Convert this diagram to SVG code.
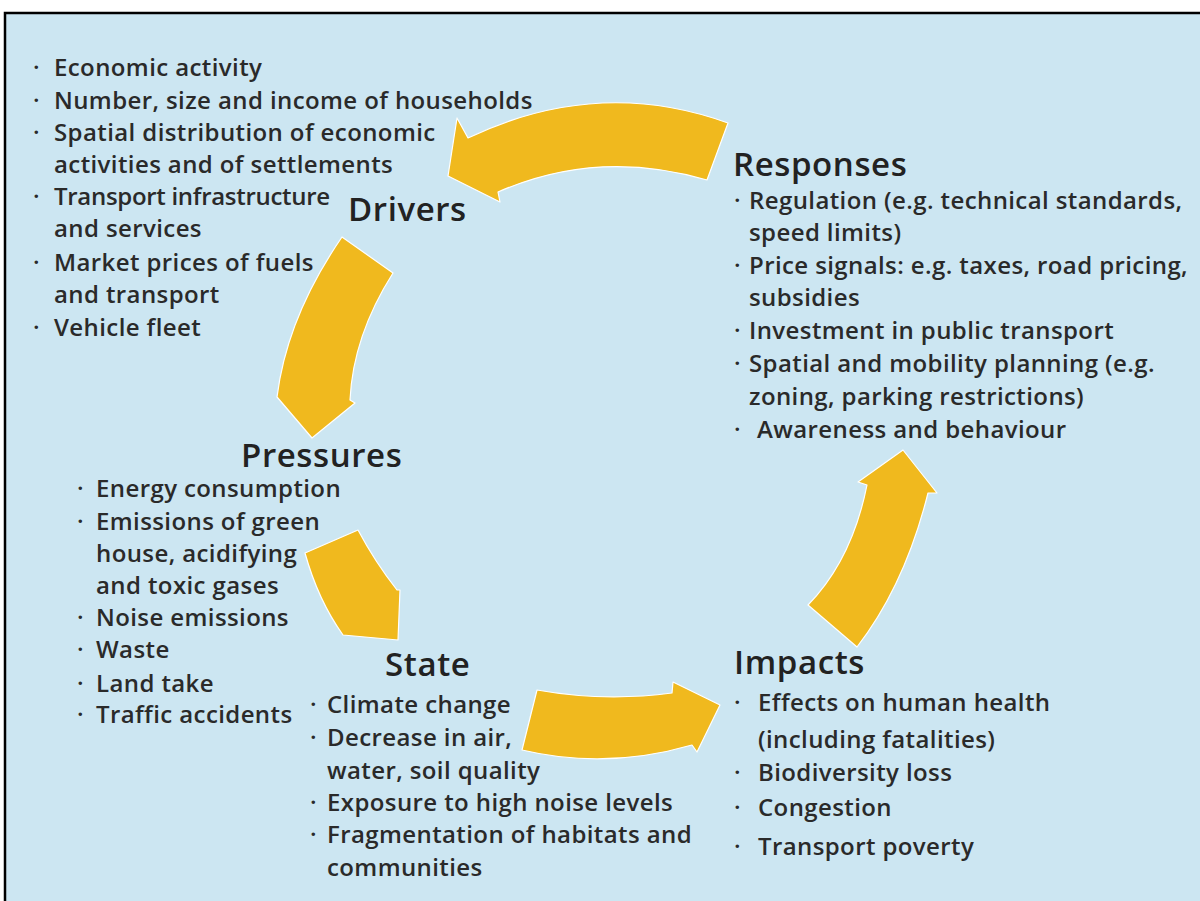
<svg xmlns="http://www.w3.org/2000/svg" width="1200" height="901" viewBox="0 0 1200 901">
<style>
.bg{fill:#cce6f2;stroke:#000;stroke-width:2.5}
.arrow{fill:#f0b91e;stroke:#fff;stroke-width:1.2;stroke-linejoin:round}
.title{font-family:"Open Sans","Liberation Sans",sans-serif;font-size:33px;font-weight:600;letter-spacing:0.6px;fill:#222}
.item{font-family:"Open Sans","Liberation Sans",sans-serif;font-size:24px;font-weight:600;letter-spacing:0.4px;fill:#2a2a2a}
</style>
<rect x="0" y="0" width="1200" height="901" fill="#ffffff"/>
<rect class="bg" x="5" y="13" width="1210" height="900"/>
<g id="connectors">
<path class="arrow" d="M728,123 Q598,76 468,138 L457,118 L448,176 L500,202 L498,192 Q598,148 707,180 Z"/>
<path class="arrow" d="M342,237 L393,273 Q353,336 350,400 L355,403 L312,438 L277,397 Q287,317 342,237 Z"/>
<path class="arrow" d="M305,553 L358,530 Q375,562 397,590 L400,590 L398,640 L343,635 Q318,600 305,553 Z"/>
<path class="arrow" d="M537,690 Q604,702 672,693 L673,682 L720,705 L697,752 L692,745 Q606,770 522,750 Z"/>
<path class="arrow" d="M808,605 L857,647 Q905,585 928,493 L937,493 L903,450 L858,482 L867,485 Q852,560 808,605 Z"/>
</g>
<g id="drivers">
<text class="title" x="348" y="221">Drivers</text>
<text class="item"><tspan x="33" y="76">·</tspan><tspan x="54" y="76">Economic activity</tspan></text>
<text class="item"><tspan x="33" y="109">·</tspan><tspan x="54" y="109">Number, size and income of households</tspan></text>
<text class="item"><tspan x="33" y="141">·</tspan><tspan x="54" y="141">Spatial distribution of economic</tspan></text>
<text class="item" x="54" y="173">activities and of settlements</text>
<text class="item"><tspan x="33" y="205">·</tspan><tspan x="54" y="205" style="letter-spacing:-0.3px">Transport infrastructure</tspan></text>
<text class="item" x="54" y="237">and services</text>
<text class="item"><tspan x="33" y="271">·</tspan><tspan x="54" y="271">Market prices of fuels</tspan></text>
<text class="item" x="54" y="303">and transport</text>
<text class="item"><tspan x="33" y="336">·</tspan><tspan x="54" y="336">Vehicle fleet</tspan></text>
</g>
<g id="responses">
<text class="title" x="733" y="176">Responses</text>
<text class="item"><tspan x="734" y="209">·</tspan><tspan x="749" y="209">Regulation (e.g. technical standards,</tspan></text>
<text class="item" x="749" y="241">speed limits)</text>
<text class="item"><tspan x="734" y="274">·</tspan><tspan x="749" y="274">Price signals: e.g. taxes, road pricing,</tspan></text>
<text class="item" x="749" y="306">subsidies</text>
<text class="item"><tspan x="734" y="339">·</tspan><tspan x="749" y="339">Investment in public transport</tspan></text>
<text class="item"><tspan x="734" y="372">·</tspan><tspan x="749" y="372">Spatial and mobility planning (e.g.</tspan></text>
<text class="item" x="749" y="405">zoning, parking restrictions)</text>
<text class="item"><tspan x="734" y="438">·</tspan><tspan x="757" y="438">Awareness and behaviour</tspan></text>
</g>
<g id="pressures">
<text class="title" x="241" y="467">Pressures</text>
<text class="item"><tspan x="77" y="497">·</tspan><tspan x="96" y="497">Energy consumption</tspan></text>
<text class="item"><tspan x="77" y="530">·</tspan><tspan x="96" y="530">Emissions of green</tspan></text>
<text class="item" x="96" y="562">house, acidifying</text>
<text class="item" x="96" y="594">and toxic gases</text>
<text class="item"><tspan x="77" y="626">·</tspan><tspan x="96" y="626">Noise emissions</tspan></text>
<text class="item"><tspan x="77" y="658">·</tspan><tspan x="96" y="658">Waste</tspan></text>
<text class="item"><tspan x="77" y="692">·</tspan><tspan x="96" y="692">Land take</tspan></text>
<text class="item"><tspan x="77" y="723">·</tspan><tspan x="96" y="723">Traffic accidents</tspan></text>
</g>
<g id="state">
<text class="title" x="385" y="676">State</text>
<text class="item"><tspan x="310" y="713">·</tspan><tspan x="327" y="713">Climate change</tspan></text>
<text class="item"><tspan x="310" y="746">·</tspan><tspan x="327" y="746">Decrease in air,</tspan></text>
<text class="item" x="327" y="779">water, soil quality</text>
<text class="item"><tspan x="310" y="811">·</tspan><tspan x="327" y="811">Exposure to high noise levels</tspan></text>
<text class="item"><tspan x="310" y="843">·</tspan><tspan x="327" y="843">Fragmentation of habitats and</tspan></text>
<text class="item" x="327" y="876">communities</text>
</g>
<g id="impacts">
<text class="title" x="734" y="674">Impacts</text>
<text class="item"><tspan x="734" y="711">·</tspan><tspan x="758" y="711">Effects on human health</tspan></text>
<text class="item" x="758" y="748">(including fatalities)</text>
<text class="item"><tspan x="734" y="781">·</tspan><tspan x="758" y="781">Biodiversity loss</tspan></text>
<text class="item"><tspan x="734" y="816">·</tspan><tspan x="758" y="816">Congestion</tspan></text>
<text class="item"><tspan x="734" y="855">·</tspan><tspan x="758" y="855">Transport poverty</tspan></text>
</g>
</svg>
